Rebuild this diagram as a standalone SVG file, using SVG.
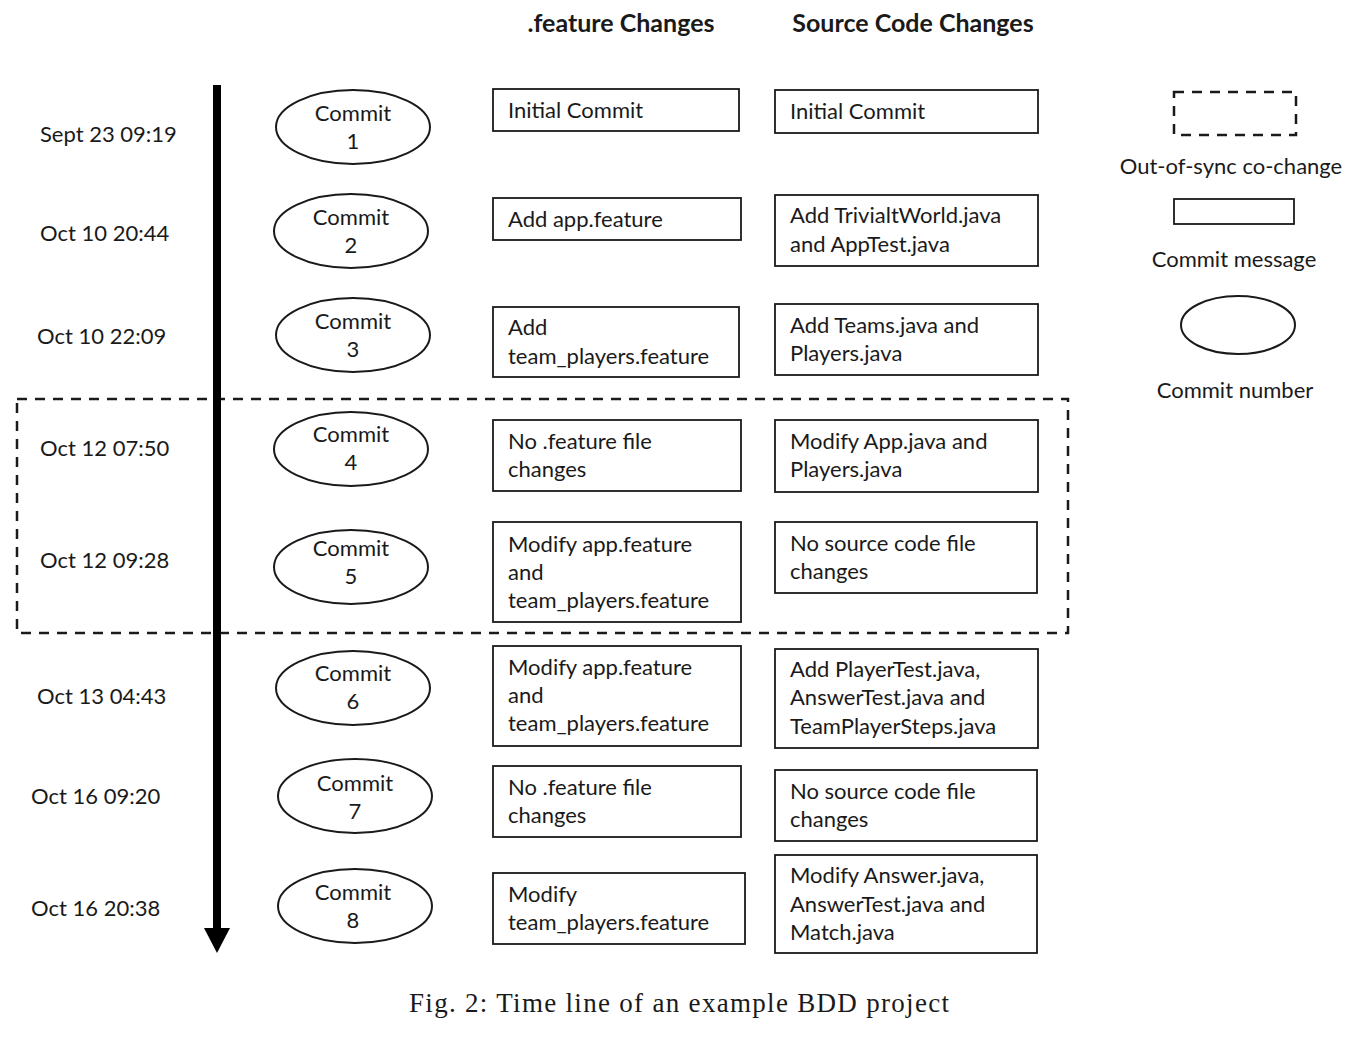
<svg xmlns="http://www.w3.org/2000/svg" width="1365" height="1037" viewBox="0 0 1365 1037">
<style>
text{font-family:Lato,"Open Sans","Liberation Sans",sans-serif;font-size:22px;fill:#1a1a1a}
.c{text-anchor:middle}
.h{font-weight:bold;font-size:25px;text-anchor:middle}
.box{fill:#fff;stroke:#1a1a1a;stroke-width:1.8}
.ell{fill:#fff;stroke:#1a1a1a;stroke-width:2}
.dash{fill:none;stroke:#1a1a1a;stroke-width:2.5;stroke-dasharray:10 8}
.cap{font-family:"Liberation Serif","Times New Roman",serif;font-size:27px}
</style>
<rect width="1365" height="1037" fill="#fff"/>
<text class="h" x="621" y="32">.feature Changes</text>
<text class="h" x="913" y="32">Source Code Changes</text>

<g id="outofsync"><rect class="dash" x="17" y="399" width="1051" height="234"/></g>

<g id="connectors">
<line x1="217" y1="85" x2="217" y2="930" stroke="#000" stroke-width="8"/>
<polygon points="204,928 230,928 217,953" fill="#000"/>
</g>

<g id="dates">
<text x="40" y="142">Sept 23 09:19</text>
<text x="40" y="241">Oct 10 20:44</text>
<text x="37" y="344">Oct 10 22:09</text>
<text x="40" y="456">Oct 12 07:50</text>
<text x="40" y="568">Oct 12 09:28</text>
<text x="37" y="704">Oct 13 04:43</text>
<text x="31" y="804">Oct 16 09:20</text>
<text x="31" y="916">Oct 16 20:38</text>
</g>

<g id="commit1"><ellipse class="ell" cx="353" cy="127" rx="77" ry="37"/><text class="c" x="353" y="121">Commit</text><text class="c" x="353" y="149">1</text></g>
<g id="commit2"><ellipse class="ell" cx="351" cy="231" rx="77" ry="37"/><text class="c" x="351" y="225">Commit</text><text class="c" x="351" y="253">2</text></g>
<g id="commit3"><ellipse class="ell" cx="353" cy="335" rx="77" ry="37"/><text class="c" x="353" y="329">Commit</text><text class="c" x="353" y="357">3</text></g>
<g id="commit4"><ellipse class="ell" cx="351" cy="449" rx="77" ry="37"/><text class="c" x="351" y="442">Commit</text><text class="c" x="351" y="470">4</text></g>
<g id="commit5"><ellipse class="ell" cx="351" cy="567" rx="77" ry="37"/><text class="c" x="351" y="556">Commit</text><text class="c" x="351" y="584">5</text></g>
<g id="commit6"><ellipse class="ell" cx="353" cy="688" rx="77" ry="37"/><text class="c" x="353" y="681">Commit</text><text class="c" x="353" y="709">6</text></g>
<g id="commit7"><ellipse class="ell" cx="355" cy="796" rx="77" ry="37"/><text class="c" x="355" y="791">Commit</text><text class="c" x="355" y="819">7</text></g>
<g id="commit8"><ellipse class="ell" cx="355" cy="906" rx="77" ry="37"/><text class="c" x="353" y="900">Commit</text><text class="c" x="353" y="928">8</text></g>

<g id="feature1"><rect class="box" x="493" y="89" width="246" height="42"/><text x="508" y="118">Initial Commit</text></g>
<g id="feature2"><rect class="box" x="493" y="198" width="248" height="42"/><text x="508" y="227">Add app.feature</text></g>
<g id="feature3"><rect class="box" x="493" y="307" width="246" height="70"/><text x="508" y="335">Add</text><text x="508" y="364">team_players.feature</text></g>
<g id="feature4"><rect class="box" x="493" y="420" width="248" height="71"/><text x="508" y="449">No .feature file</text><text x="508" y="477">changes</text></g>
<g id="feature5"><rect class="box" x="493" y="522" width="248" height="100"/><text x="508" y="552">Modify app.feature</text><text x="508" y="580">and</text><text x="508" y="608">team_players.feature</text></g>
<g id="feature6"><rect class="box" x="493" y="646" width="248" height="100"/><text x="508" y="675">Modify app.feature</text><text x="508" y="703">and</text><text x="508" y="731">team_players.feature</text></g>
<g id="feature7"><rect class="box" x="493" y="766" width="248" height="71"/><text x="508" y="795">No .feature file</text><text x="508" y="823">changes</text></g>
<g id="feature8"><rect class="box" x="493" y="873" width="252" height="71"/><text x="508" y="902">Modify</text><text x="508" y="930">team_players.feature</text></g>

<g id="source1"><rect class="box" x="775" y="90" width="263" height="43"/><text x="790" y="119">Initial Commit</text></g>
<g id="source2"><rect class="box" x="775" y="195" width="263" height="71"/><text x="790" y="223">Add TrivialtWorld.java</text><text x="790" y="252">and AppTest.java</text></g>
<g id="source3"><rect class="box" x="775" y="304" width="263" height="71"/><text x="790" y="333">Add Teams.java and</text><text x="790" y="361">Players.java</text></g>
<g id="source4"><rect class="box" x="775" y="420" width="263" height="72"/><text x="790" y="449">Modify App.java and</text><text x="790" y="477">Players.java</text></g>
<g id="source5"><rect class="box" x="775" y="522" width="262" height="71"/><text x="790" y="551">No source code file</text><text x="790" y="579">changes</text></g>
<g id="source6"><rect class="box" x="775" y="649" width="263" height="99"/><text x="790" y="677">Add PlayerTest.java,</text><text x="790" y="705">AnswerTest.java and</text><text x="790" y="734">TeamPlayerSteps.java</text></g>
<g id="source7"><rect class="box" x="775" y="770" width="262" height="71"/><text x="790" y="799">No source code file</text><text x="790" y="827">changes</text></g>
<g id="source8"><rect class="box" x="775" y="855" width="262" height="98"/><text x="790" y="883">Modify Answer.java,</text><text x="790" y="912">AnswerTest.java and</text><text x="790" y="940">Match.java</text></g>

<g id="legend">
<rect class="dash" x="1174" y="92" width="122" height="43"/>
<text class="c" x="1231" y="174">Out-of-sync co-change</text>
<rect class="box" x="1174" y="199" width="120" height="25"/>
<text class="c" x="1234" y="267">Commit message</text>
<ellipse class="ell" cx="1238" cy="325" rx="57" ry="29"/>
<text class="c" x="1235" y="398">Commit number</text>
</g>

<text class="cap" x="409" y="1012" textLength="540" lengthAdjust="spacing">Fig. 2: Time line of an example BDD project</text>
</svg>
